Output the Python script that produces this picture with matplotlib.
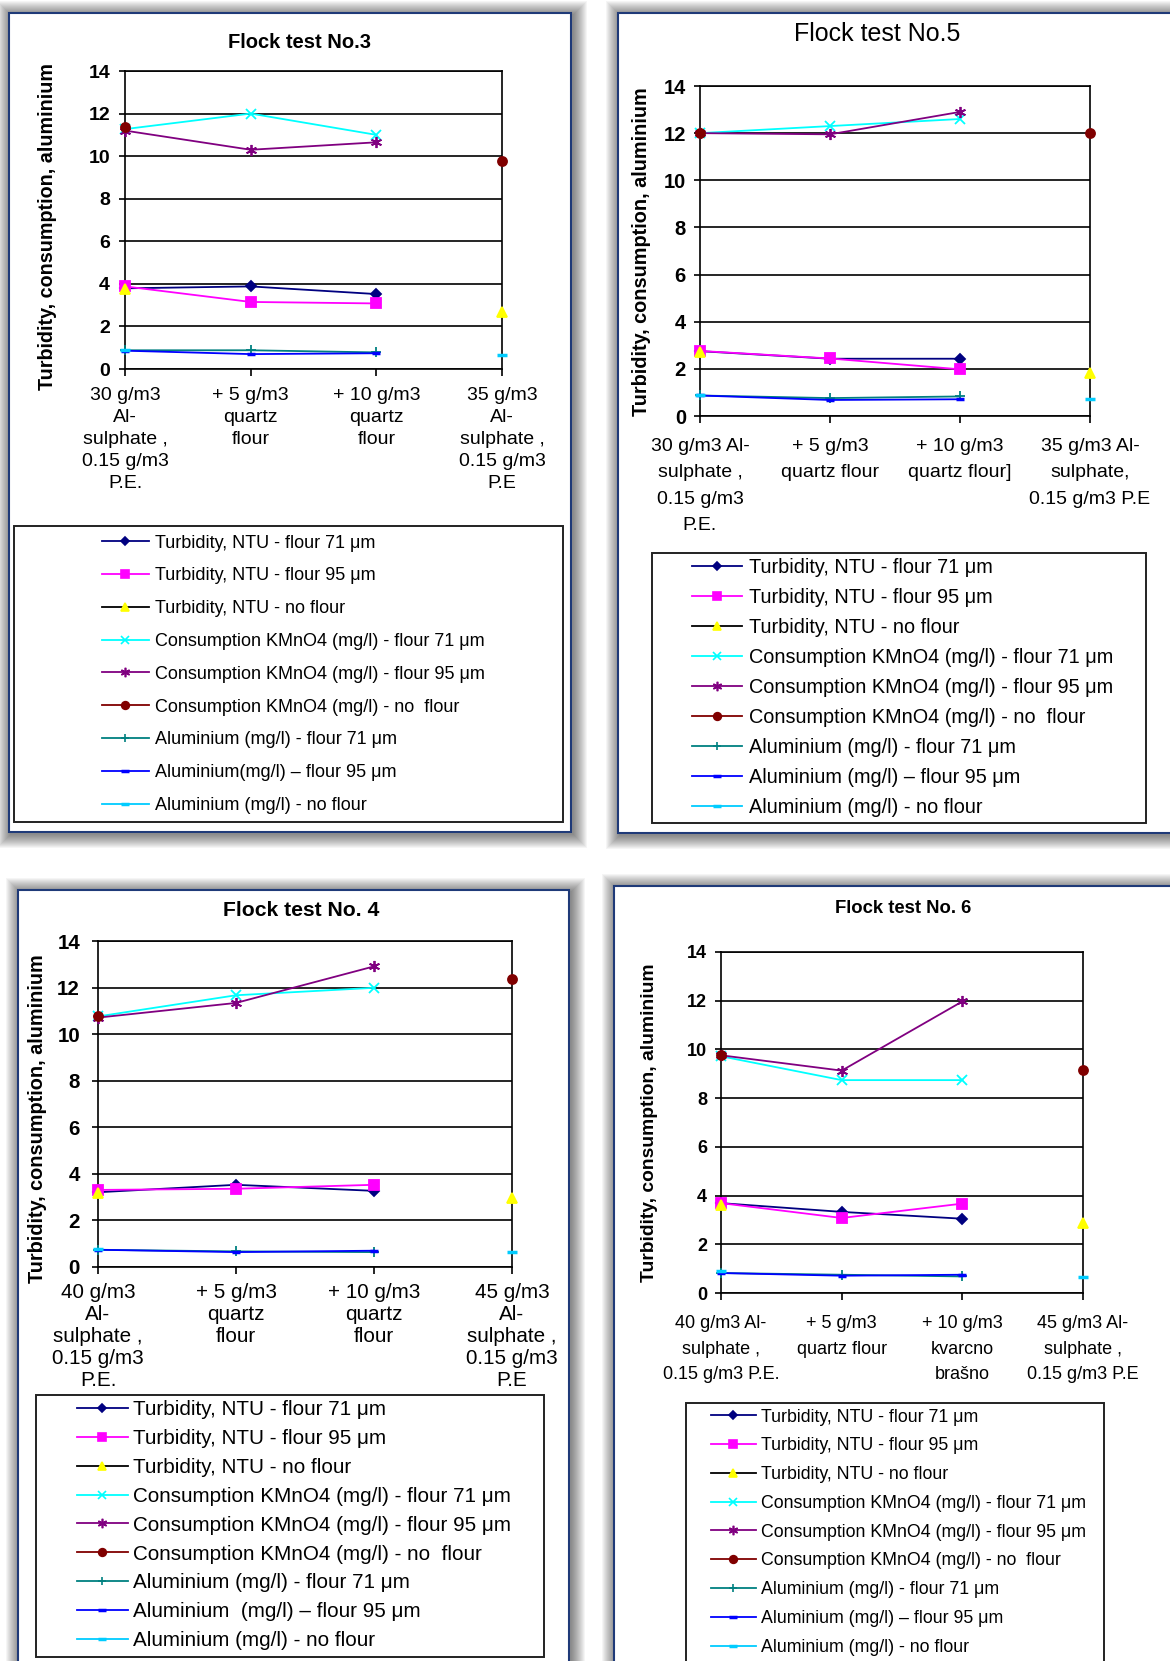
import numpy as np
import matplotlib
matplotlib.use("Agg")
import matplotlib.pyplot as plt
from matplotlib.patches import Rectangle
from matplotlib.lines import Line2D

plt.rcParams['font.family'] = ['Liberation Sans', 'DejaVu Sans']

W, H, DPI = 1170, 1661, 100
nan = np.nan

# ---------------- data ----------------
LEGEND_LABELS = [
    "Turbidity, NTU - flour 71 μm",
    "Turbidity, NTU - flour 95 μm",
    "Turbidity, NTU - no flour",
    "Consumption KMnO4 (mg/l) - flour 71 μm",
    "Consumption KMnO4 (mg/l) - flour 95 μm",
    "Consumption KMnO4 (mg/l) - no  flour",
    "Aluminium (mg/l) - flour 71 μm",
    "Aluminium (mg/l) – flour 95 μm",
    "Aluminium (mg/l) - no flour",
]
AL95_LABEL_T3 = "Aluminium(mg/l) – flour 95 μm"
AL95_LABEL_T4 = "Aluminium  (mg/l) – flour 95 μm"

# Flock test No.3
T3_CATS = ["30 g/m3\nAl-\nsulphate ,\n0.15 g/m3\nP.E.", "+ 5 g/m3\nquartz\nflour",
           "+ 10 g/m3\nquartz\nflour", "35 g/m3\nAl-\nsulphate ,\n0.15 g/m3\nP.E"]
T3_TURB_71 = [3.79, 3.88, 3.52, nan]
T3_TURB_95 = [3.88, 3.15, 3.08, nan]
T3_TURB_NO = [3.75, nan, nan, 2.66]
T3_KMNO4_71 = [11.27, 12.0, 11.0, nan]
T3_KMNO4_95 = [11.2, 10.3, 10.65, nan]
T3_KMNO4_NO = [11.35, nan, nan, 9.78]
T3_AL_71 = [0.88, 0.88, 0.78, nan]
T3_AL_95 = [0.86, 0.70, 0.74, nan]
T3_AL_NO = [0.90, nan, nan, 0.64]

# Flock test No.5
T5_CATS = ["30 g/m3 Al-\nsulphate ,\n0.15 g/m3\nP.E.", "+ 5 g/m3\nquartz flour",
           "+ 10 g/m3\nquartz flour]", "35 g/m3 Al-\nsulphate,\n0.15 g/m3 P.E"]
T5_TURB_71 = [2.75, 2.43, 2.43, nan]
T5_TURB_95 = [2.76, 2.44, 1.98, nan]
T5_TURB_NO = [2.73, nan, nan, 1.82]
T5_KMNO4_71 = [12.0, 12.3, 12.6, nan]
T5_KMNO4_95 = [12.0, 11.95, 12.9, nan]
T5_KMNO4_NO = [12.02, nan, nan, 12.0]
T5_AL_71 = [0.87, 0.76, 0.83, nan]
T5_AL_95 = [0.87, 0.68, 0.71, nan]
T5_AL_NO = [0.91, nan, nan, 0.73]

# Flock test No. 4
T4_CATS = ["40 g/m3\nAl-\nsulphate ,\n0.15 g/m3\nP.E.", "+ 5 g/m3\nquartz\nflour",
           "+ 10 g/m3\nquartz\nflour", "45 g/m3\nAl-\nsulphate ,\n0.15 g/m3\nP.E"]
T4_TURB_71 = [3.21, 3.53, 3.27, nan]
T4_TURB_95 = [3.31, 3.36, 3.53, nan]
T4_TURB_NO = [3.17, nan, nan, 2.96]
T4_KMNO4_71 = [10.76, 11.67, 11.99, nan]
T4_KMNO4_95 = [10.71, 11.34, 12.91, nan]
T4_KMNO4_NO = [10.79, nan, nan, 12.37]
T4_AL_71 = [0.74, 0.67, 0.64, nan]
T4_AL_95 = [0.74, 0.64, 0.70, nan]
T4_AL_NO = [0.77, nan, nan, 0.66]

# Flock test No. 6
T6_CATS = ["40 g/m3 Al-\nsulphate ,\n0.15 g/m3 P.E.", "+ 5 g/m3\nquartz flour",
           "+ 10 g/m3\nkvarcno\nbrašno", "45 g/m3 Al-\nsulphate ,\n0.15 g/m3 P.E"]
T6_TURB_71 = [3.69, 3.33, 3.05, nan]
T6_TURB_95 = [3.69, 3.08, 3.67, nan]
T6_TURB_NO = [3.63, nan, nan, 2.87]
T6_KMNO4_71 = [9.72, 8.74, 8.74, nan]
T6_KMNO4_95 = [9.76, 9.13, 11.97, nan]
T6_KMNO4_NO = [9.79, nan, nan, 9.14]
T6_AL_71 = [0.82, 0.75, 0.68, nan]
T6_AL_95 = [0.82, 0.71, 0.75, nan]
T6_AL_NO = [0.89, nan, nan, 0.66]

Y_TICKS = [0, 2, 4, 6, 8, 10, 12, 14]
Y_LABEL = "Turbidity, consumption, aluminium"

# ---------------- styles ----------------
STYLES = [
    dict(color="#000080", marker="D", ms=5, mfc="#000080", mec="#000080"),
    dict(color="#FF00FF", marker="s", ms=7, mfc="#FF00FF", mec="#FF00FF"),
    dict(color="#000000", marker="^", ms=7, mfc="#FFFF00", mec="#FFFF00"),
    dict(color="#00FFFF", marker="x", ms=7, mfc="#00FFFF", mec="#00FFFF"),
    dict(color="#800080", marker=(6, 2, 0), ms=8, mfc="#800080", mec="#800080"),
    dict(color="#800000", marker="o", ms=6.5, mfc="#800000", mec="#800000"),
    dict(color="#008080", marker="+", ms=7, mfc="#008080", mec="#008080"),
    dict(color="#0000FF", marker="_", ms=6, mfc="#0000FF", mec="#0000FF"),
    dict(color="#00CCFF", marker="_", ms=7, mfc="#00CCFF", mec="#00CCFF"),
]

fig = plt.figure(figsize=(W / DPI, H / DPI), dpi=DPI)
fig.patch.set_facecolor("white")


def frect(x0, y0, x1, y1):
    return (x0 / W, 1 - y1 / H, (x1 - x0) / W, (y1 - y0) / H)


def panel_box(x0, y0, x1, y1):
    for i in range(14, 0, -1):
        l, b, w, h = frect(x0 - i + 2, y0 - i + 2, x1 + i + 2, y1 + i + 2)
        fig.add_artist(Rectangle((l, b), w, h, transform=fig.transFigure,
                                 facecolor="black", edgecolor="none", alpha=0.04, zorder=-5))
    l, b, w, h = frect(x0, y0, x1, y1)
    fig.add_artist(Rectangle((l, b), w, h, transform=fig.transFigure,
                             facecolor="white", edgecolor="#1F3A78", linewidth=1.5, zorder=-4))


def legend_box(x0, y0, x1, y1):
    l, b, w, h = frect(x0, y0, x1, y1)
    fig.add_artist(Rectangle((l, b), w, h, transform=fig.transFigure,
                             facecolor="white", edgecolor="#222222", linewidth=1.4, zorder=-3))


def draw_panel(p):
    panel_box(*p["border"])
    legend_box(*p["legbox"])
    ax = fig.add_axes(frect(*p["plot"]))
    ax.set_xlim(0, 3)
    ax.set_ylim(0, 14)
    x = np.arange(len(p["cats"]))
    for ser, st in zip(p["series"], STYLES):
        ax.plot(x, ser, color=st["color"], lw=1.3, marker=st["marker"], ms=st["ms"],
                mfc=st["mfc"], mec=st["mec"], mew=1.3 if st["marker"] != "_" else 2.5,
                clip_on=False, zorder=3)
    ax.set_yticks(Y_TICKS)
    ax.set_xticks(x)
    ax.set_xticklabels(p["cats"], fontsize=p["xfs"], linespacing=p["xls"])
    for t in ax.get_yticklabels():
        t.set_fontweight("bold")
        t.set_fontsize(p["yfs"])
    ax.tick_params(axis="x", direction="out", length=5, width=1.2, pad=p["xpad"], colors="black")
    ax.tick_params(axis="y", direction="out", length=4.3, width=1.2, pad=p["ypad"], colors="black")
    ax.grid(axis="y", color="black", linewidth=1.2)
    ax.set_axisbelow(True)
    for s in ax.spines.values():
        s.set_color("black")
        s.set_linewidth(1.2)
    # title & y label
    tx, ty = p["title_xy"]
    fig.text(tx / W, 1 - ty / H, p["title"], ha="center", va="center",
             fontsize=p["tfs"], fontweight=p["tfw"])
    lx, ly = p["ylab_xy"]
    fig.text(lx / W, 1 - ly / H, Y_LABEL, rotation=90, ha="center", va="center",
             fontsize=p["lfs"], fontweight="bold")
    # legend
    handles = [Line2D([], [], color=st["color"], lw=1.3, marker=st["marker"],
                      ms=st["ms"] * 0.85, mfc=st["mfc"], mec=st["mec"],
                      mew=1.2 if st["marker"] != "_" else 2.5) for st in STYLES]
    fs_px = p["legfs"] * DPI / 72
    top = p["leg_first"] - 0.47 * fs_px
    spacing = (p["leg_pitch"] - 0.93 * fs_px) / fs_px
    fig.legend(handles, p["labels"], loc="upper left",
               bbox_to_anchor=(p["leg_x"] / W, 1 - top / H), bbox_transform=fig.transFigure,
               frameon=False, borderpad=0, borderaxespad=0, numpoints=1,
               handlelength=p["hl"], handletextpad=p["htp"], labelspacing=spacing,
               fontsize=p["legfs"])


labels3 = LEGEND_LABELS[:7] + [AL95_LABEL_T3] + LEGEND_LABELS[8:]
labels4 = LEGEND_LABELS[:7] + [AL95_LABEL_T4] + LEGEND_LABELS[8:]

panels = [
    dict(title="Flock test No.3", tfw="bold", tfs=14.5, title_xy=(300, 43),
         border=(9, 13, 571, 832), plot=(125, 71, 502, 369), legbox=(14, 526, 563, 822),
         cats=T3_CATS, xfs=14, xls=1.38, xpad=8, yfs=14, ypad=6.5,
         ylab_xy=(48, 226), lfs=14.2,
         series=[T3_TURB_71, T3_TURB_95, T3_TURB_NO, T3_KMNO4_71, T3_KMNO4_95,
                 T3_KMNO4_NO, T3_AL_71, T3_AL_95, T3_AL_NO],
         labels=labels3, legfs=13, leg_first=543, leg_pitch=32.6, leg_x=102, hl=2.6, htp=0.33),
    dict(title="Flock test No.5", tfw="normal", tfs=18, title_xy=(877, 34),
         border=(618, 13, 1178, 833), plot=(700, 86, 1090, 416), legbox=(652, 553, 1146, 823),
         cats=T5_CATS, xfs=14, xls=1.73, xpad=10.6, yfs=14.5, ypad=5.8,
         ylab_xy=(641, 252), lfs=14.3,
         series=[T5_TURB_71, T5_TURB_95, T5_TURB_NO, T5_KMNO4_71, T5_KMNO4_95,
                 T5_KMNO4_NO, T5_AL_71, T5_AL_95, T5_AL_NO],
         labels=LEGEND_LABELS, legfs=14.3, leg_first=567, leg_pitch=29.5, leg_x=692, hl=2.5, htp=0.35),
    dict(title="Flock test No. 4", tfw="bold", tfs=15.2, title_xy=(301, 911),
         border=(18, 890, 569, 1680), plot=(98, 941, 512, 1267), legbox=(36, 1395, 544, 1657),
         cats=T4_CATS, xfs=14.9, xls=1.21, xpad=6.3, yfs=14.8, ypad=8.6,
         ylab_xy=(38, 1119), lfs=14.3,
         series=[T4_TURB_71, T4_TURB_95, T4_TURB_NO, T4_KMNO4_71, T4_KMNO4_95,
                 T4_KMNO4_NO, T4_AL_71, T4_AL_95, T4_AL_NO],
         labels=labels4, legfs=14.9, leg_first=1410, leg_pitch=29.1, leg_x=77, hl=2.46, htp=0.25),
    dict(title="Flock test No. 6", tfw="bold", tfs=13.3, title_xy=(903, 909),
         border=(614, 886, 1178, 1680), plot=(721, 952, 1083, 1293), legbox=(686, 1403, 1104, 1680),
         cats=T6_CATS, xfs=13, xls=1.65, xpad=10.9, yfs=13, ypad=5.8,
         ylab_xy=(649, 1123), lfs=13.9,
         series=[T6_TURB_71, T6_TURB_95, T6_TURB_NO, T6_KMNO4_71, T6_KMNO4_95,
                 T6_KMNO4_NO, T6_AL_71, T6_AL_95, T6_AL_NO],
         labels=LEGEND_LABELS, legfs=12.8, leg_first=1417, leg_pitch=28.3, leg_x=711, hl=2.53, htp=0.28),
]

for p in panels:
    draw_panel(p)

fig.savefig("out.png", dpi=DPI)
